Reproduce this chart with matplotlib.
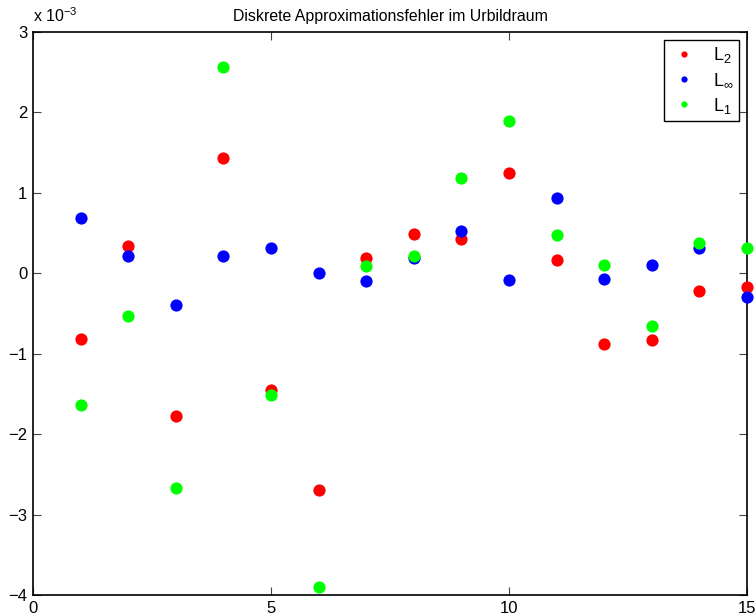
import matplotlib
matplotlib.use("Agg")
import matplotlib.pyplot as plt
from matplotlib.ticker import FuncFormatter
from matplotlib.lines import Line2D

plt.rcParams['font.family'] = ['Liberation Sans', 'DejaVu Sans']
plt.rcParams['mathtext.fontset'] = 'custom'
plt.rcParams['mathtext.rm'] = 'Liberation Sans'
plt.rcParams['mathtext.it'] = 'Liberation Sans'

# Discretisation index
n = list(range(1, 16))

# Approximation errors (units of 1e-3)
err_l2 = [-0.82, 0.34, -1.77, 1.43, -1.45, -2.70, 0.19, 0.49, 0.43, 1.25, 0.16, -0.88, -0.83, -0.22, -0.17]
err_linf = [0.69, 0.21, -0.39, 0.21, 0.31, 0.00, -0.09, 0.19, 0.53, -0.08, 0.93, -0.07, 0.10, 0.32, -0.30]
err_l1 = [-1.64, -0.53, -2.67, 2.56, -1.51, -3.90, 0.09, 0.22, 1.19, 1.89, 0.48, 0.10, -0.66, 0.38, 0.31]

scale = 1e-3
series = [
    (err_l2, '#ff0000', r'L$_2$'),
    (err_linf, '#0000ff', r'L$_\infty$'),
    (err_l1, '#00ff00', r'L$_1$'),
]

W, H = 755, 616
fig = plt.figure(figsize=(W / 100, H / 100), dpi=100)
ax = fig.add_axes([33 / W, (H - 595) / H, 714 / W, 563 / H])

for vals, col, lab in series:
    ax.plot(n, [v * scale for v in vals], linestyle='none', marker='o',
            markersize=8.8, markeredgewidth=0, color=col, label=lab,
            clip_on=False, zorder=3)

ax.set_xlim(0, 15)
ax.set_ylim(-4e-3, 3e-3)
ax.set_xticks([0, 5, 10, 15])
ax.set_yticks([k * scale for k in range(-4, 4)])
ax.yaxis.set_major_formatter(FuncFormatter(
    lambda v, p: f"{round(v / scale):d}".replace('-', '\u2212')))

ax.tick_params(direction='in', length=6, width=0.8, top=True, right=True,
               labelsize=12, pad=4, color='#444444')
for s in ax.spines.values():
    s.set_linewidth(1.2)

ax.set_title('Diskrete Approximationsfehler im Urbildraum', fontsize=11.4, pad=8)
ax.text(0.0, 1.012, 'x 10$^{\u22123}$', transform=ax.transAxes,
        fontsize=11.5, ha='left', va='bottom')

handles = [Line2D([], [], linestyle='none', marker='o', markersize=4.5,
                  markeredgewidth=0, color=col) for _, col, _ in series]
leg = ax.legend(handles, [lab for _, _, lab in series], loc='upper right',
                bbox_to_anchor=(739 / W, (H - 40) / H), bbox_transform=fig.transFigure,
                fontsize=13, frameon=True, fancybox=False, framealpha=1,
                edgecolor='black', borderpad=0.3, labelspacing=0.35,
                handlelength=1.6, handletextpad=0.8, borderaxespad=0)
leg.get_frame().set_linewidth(1.0)

fig.savefig('out.png', dpi=100)
